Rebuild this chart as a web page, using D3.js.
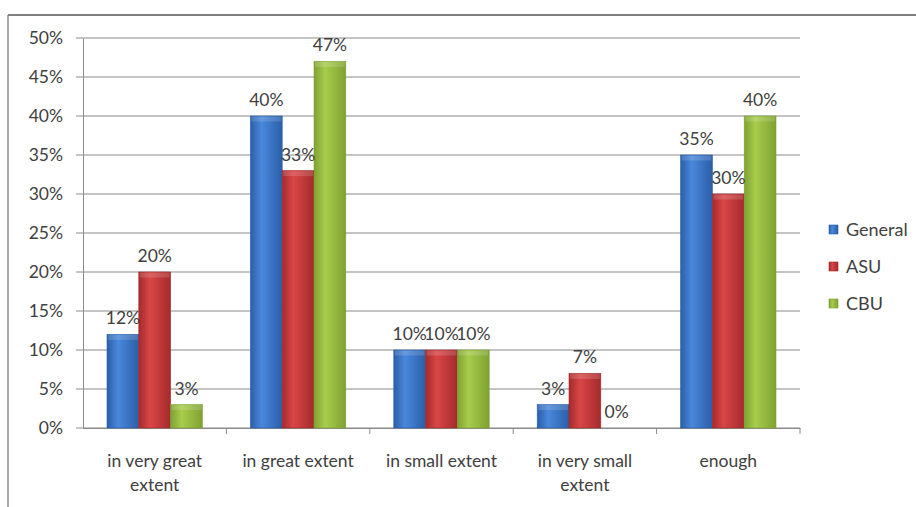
<!DOCTYPE html>
<html>
<head>
<meta charset="utf-8">
<script src="https://cdn.jsdelivr.net/npm/d3@7"></script>
<style>
  body { margin: 0; background: #fff; }
  svg { font-family: Lato, "Open Sans", sans-serif; }
</style>
</head>
<body>
<div id="chart"></div>
<script>
const categories = ["in very great extent", "in great extent", "in small extent", "in very small extent", "enough"];
const catLines = [["in very great", "extent"], ["in great extent"], ["in small extent"], ["in very small", "extent"], ["enough"]];
const seriesNames = ["General", "ASU", "CBU"];
const general = [12, 40, 10, 3, 35];
const asu = [20, 33, 10, 7, 30];
const cbu = [3, 47, 10, 0, 40];
const yTicks = [0, 5, 10, 15, 20, 25, 30, 35, 40, 45, 50];

const colors = {
  General: ["#2a5ea8", "#4a88dc", "#2a5ea8"],
  ASU: ["#a52a2c", "#d94646", "#a52a2c"],
  CBU: ["#7ea232", "#a8cc4c", "#7ea232"]
};

const W = 916, H = 507;
const margin = { top: 38, right: 116, bottom: 79, left: 83 };
const width = W - margin.left - margin.right,
  height = H - margin.top - margin.bottom;

const svg = d3.select("#chart").append("svg")
  .attr("width", W).attr("height", H);

// outer frame (only top and left visible)
svg.append("line").attr("x1", 8).attr("x2", W).attr("y1", 15).attr("y2", 15)
  .attr("stroke", "#7f7f7f").attr("stroke-width", 2);
svg.append("line").attr("x1", 8).attr("x2", 8).attr("y1", 15).attr("y2", H)
  .attr("stroke", "#8c8c8c").attr("stroke-width", 1.5);

const defs = svg.append("defs");
seriesNames.forEach(name => {
  const g = defs.append("linearGradient").attr("id", "grad" + name)
    .attr("x1", "0%").attr("x2", "100%").attr("y1", "0%").attr("y2", "0%");
  g.append("stop").attr("offset", "0%").attr("stop-color", colors[name][0]);
  g.append("stop").attr("offset", "35%").attr("stop-color", colors[name][1]);
  g.append("stop").attr("offset", "100%").attr("stop-color", colors[name][2]);
});

const chart = svg.append("g").attr("transform", `translate(${margin.left}, ${margin.top})`);

const y = d3.scaleLinear().domain([0, 50]).range([height, 0]);
const x0 = d3.scaleBand().domain(categories).range([0, width]).paddingInner(0).paddingOuter(0);
const x1 = d3.scaleBand().domain(seriesNames).range([24, x0.bandwidth() - 24]);

// gridlines
chart.append("g").selectAll("line").data(yTicks).join("line")
  .attr("x1", -7).attr("x2", width)
  .attr("y1", d => y(d)).attr("y2", d => y(d))
  .attr("stroke", "#8a8a8a").attr("stroke-width", 1);

// y axis
const yAxis = chart.append("g")
  .call(d3.axisLeft(y).tickValues(yTicks).tickFormat(d => d + "%").tickSize(0).tickPadding(20));
yAxis.select(".domain").attr("stroke", "#8a8a8a");
yAxis.selectAll("text").attr("font-size", 17.5).attr("fill", "#404040")
  .attr("font-family", "Lato, sans-serif");

// x axis
const xAxis = chart.append("g").attr("transform", `translate(0, ${height})`)
  .call(d3.axisBottom(x0).tickValues([]).tickSizeOuter(0));
xAxis.select(".domain").attr("stroke", "#8a8a8a");
chart.append("g").selectAll("line").data(d3.range(1, categories.length + 1)).join("line")
  .attr("x1", i => i * x0.step()).attr("x2", i => i * x0.step())
  .attr("y1", height).attr("y2", height + 6)
  .attr("stroke", "#8a8a8a");

const table = categories.map((c, i) => ({ cat: c, General: general[i], ASU: asu[i], CBU: cbu[i] }));

const groups = chart.selectAll(".grp").data(table).join("g")
  .attr("class", "grp")
  .attr("transform", d => `translate(${x0(d.cat)}, 0)`);

groups.selectAll("rect").data(d => seriesNames.map(s => ({ s, v: d[s] }))).join("rect")
  .attr("x", d => x1(d.s))
  .attr("y", d => y(d.v))
  .attr("width", x1.bandwidth())
  .attr("height", d => height - y(d.v))
  .attr("fill", d => `url(#grad${d.s})`)
  .attr("stroke", d => colors[d.s][0])
  .attr("stroke-width", 0.6);

// top bevel highlight
groups.selectAll(".bevel").data(d => seriesNames.map(s => ({ s, v: d[s] })).filter(e => e.v > 0)).join("rect")
  .attr("class", "bevel")
  .attr("x", d => x1(d.s) + 1)
  .attr("y", d => y(d.v) + 0.5)
  .attr("width", x1.bandwidth() - 2)
  .attr("height", 5)
  .attr("fill", "#fff").attr("opacity", 0.15);

groups.selectAll(".lbl").data(d => seriesNames.map(s => ({ s, v: d[s] }))).join("text")
  .attr("class", "lbl")
  .attr("x", d => x1(d.s) + x1.bandwidth() / 2)
  .attr("y", d => y(d.v) - 10)
  .attr("text-anchor", "middle")
  .attr("font-size", 17.5)
  .attr("fill", "#404040")
  .text(d => d.v + "%");

// category labels
chart.append("g").selectAll("text").data(categories).join("text")
  .attr("x", d => x0(d) + x0.bandwidth() / 2)
  .attr("y", height + 39)
  .attr("text-anchor", "middle")
  .attr("font-size", 17.5)
  .attr("fill", "#404040")
  .each(function (d, i) {
    d3.select(this).selectAll("tspan").data(catLines[i]).join("tspan")
      .attr("x", x0(d) + x0.bandwidth() / 2)
      .attr("dy", (l, j) => j === 0 ? 0 : 24)
      .text(l => l);
  });

// legend
const legend = svg.append("g").attr("transform", "translate(829, 225)");
seriesNames.forEach((name, i) => {
  const g = legend.append("g").attr("transform", `translate(0, ${i * 37})`);
  g.append("rect").attr("width", 9).attr("height", 9)
    .attr("fill", `url(#grad${name})`).attr("stroke", colors[name][0]).attr("stroke-width", 0.6);
  g.append("text").attr("x", 17).attr("y", 11)
    .attr("font-size", 18).attr("fill", "#404040").text(name);
});
</script>
</body>
</html>
